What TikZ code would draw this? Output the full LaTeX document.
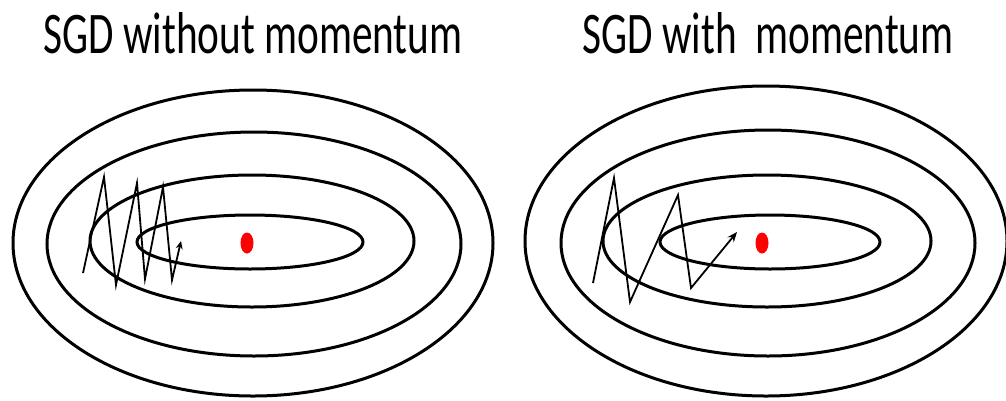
\documentclass[tikz,border=0pt]{standalone}
\usepackage{fontspec}
\setmainfont{Carlito}
\usetikzlibrary{arrows.meta}
\definecolor{MinDot}{HTML}{FF0000}

\begin{document}
\begin{tikzpicture}[x=1pt,y=-1pt,
    contour/.style={line width=3pt},
    descent/.style={line width=1.8pt,line join=miter},
    title/.style={anchor=base,inner sep=0pt,font=\fontsize{59}{60}\selectfont}]
  \useasboundingbox (0,0) rectangle (1006,400);
  % titles
  \node[title] (tLeft)  at (253,53) {\scalebox{0.7}[1]{SGD without momentum}};
  \node[title] (tRight) at (768,53) {\scalebox{0.7}[1]{SGD with\ \ momentum}};
  % left loss surface
  \draw[contour] (253,243) ellipse [x radius=240, y radius=153];
  \draw[contour] (254,244) ellipse [x radius=207, y radius=112];
  \draw[contour] (252,241) ellipse [x radius=162, y radius=66];
  \draw[contour] (250,242) ellipse [x radius=113, y radius=27];
  \fill[MinDot] (247,243) ellipse [x radius=6.5, y radius=10.5];
  % right loss surface
  \draw[contour] (766,241) ellipse [x radius=241, y radius=155];
  \draw[contour] (768,243) ellipse [x radius=207, y radius=113];
  \draw[contour] (767,241) ellipse [x radius=164, y radius=66];
  \draw[contour] (770,242) ellipse [x radius=110, y radius=27];
  \fill[MinDot] (762,243) ellipse [x radius=6.5, y radius=10.5];
  % descent paths
  \draw[descent,-{Stealth[length=8pt,width=7pt]}]
    (83,273) -- (104,177) -- (116,285) -- (137,183) -- (145,279)
    -- (163,187) -- (172,280) -- (181,241);
  \draw[descent,-{Stealth[length=10pt,width=8pt]}]
    (593,283) -- (614,178) -- (630,302) -- (678,195) -- (691,288) -- (737,232);
\end{tikzpicture}
\end{document}
